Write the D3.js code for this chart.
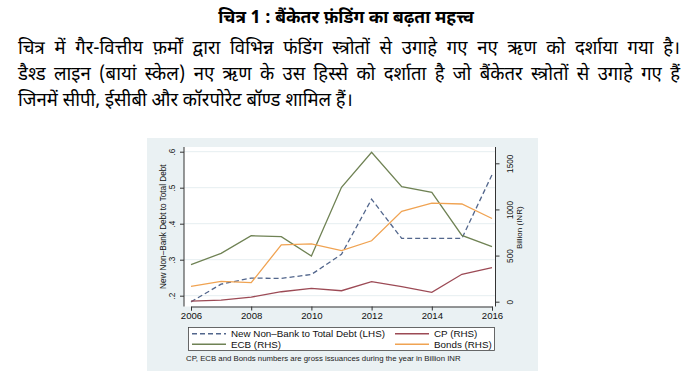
<!DOCTYPE html>
<html lang="hi">
<head>
  <meta charset="UTF-8">
  <title>चित्र 1</title>
  <script src="https://cdn.jsdelivr.net/npm/d3@7"></script>
  <style>
    body { margin: 0; background: #fff; }
    .dev { font-family: "Noto Sans Devanagari", "Lohit Devanagari", "FreeSans", "Noto Sans", sans-serif; }
    .chart { font-family: "Liberation Sans", Arial, sans-serif; }
  </style>
</head>
<body>
<div id="grafica"></div>

<script>
// datos
years = [2006, 2007, 2008, 2009, 2010, 2011, 2012, 2013, 2014, 2015, 2016]
nonBankShare = [0.183, 0.232, 0.249, 0.248, 0.259, 0.315, 0.468, 0.359, 0.359, 0.359, 0.536]
cp    = [6, 18, 50, 108, 145, 119, 217, 163, 102, 297, 369]
ecb   = [401, 524, 715, 705, 495, 1240, 1619, 1246, 1186, 718, 596]
bonds = [167, 221, 206, 616, 626, 553, 660, 980, 1068, 1059, 902]

xTicks = [2006, 2008, 2010, 2012, 2014, 2016]
leftTicks = [0.2, 0.3, 0.4, 0.5, 0.6]
rightTicks = [0, 500, 1000, 1500]

title = 'चित्र 1 : बैंकेतर फ़ंडिंग का बढ़ता महत्त्व'
paragraph = [
  'चित्र में गैर-वित्तीय फ़र्मों द्वारा विभिन्न फंडिंग स्त्रोतों से उगाहे गए नए ऋण को दर्शाया गया है।',
  'डैश्ड लाइन (बायां स्केल) नए ऋण के उस हिस्से को दर्शाता है जो बैंकेतर स्त्रोतों से उगाहे गए हैं',
  'जिनमें सीपी, ईसीबी और कॉरपोरेट बॉण्ड शामिल हैं।'
]
footnote = 'CP, ECB and Bonds numbers are gross issuances during the year in Billion INR'

series = [
  {name: 'New Non\u2013Bank to Total Debt (LHS)', values: nonBankShare, axis: 'left', color: '#52668c', dash: '5,3'},
  {name: 'CP (RHS)', values: cp, axis: 'right', color: '#9c4a55', dash: null},
  {name: 'ECB (RHS)', values: ecb, axis: 'right', color: '#6f8254', dash: null},
  {name: 'Bonds (RHS)', values: bonds, axis: 'right', color: '#f0a352', dash: null}
]

ancho_total = 693
alto_total = 386

svg = d3.select('#grafica')
  .append('svg')
  .attr('width', ancho_total)
  .attr('height', alto_total)

// texto de cabecera
svg.append('text')
  .attr('class', 'dev')
  .attr('x', 346)
  .attr('y', 23)
  .attr('text-anchor', 'middle')
  .attr('font-size', 17.5)
  .attr('font-weight', 'bold')
  .text(title)

// parrafo justificado con word-spacing
paragraph.forEach((line, i) => {
  t = svg.append('text')
    .attr('class', 'dev')
    .attr('x', 18)
    .attr('y', 54 + i * 26)
    .attr('font-size', 18.5)
    .text(line)
  if (i < 2) {
    w = t.node().getComputedTextLength()
    gaps = line.split(' ').length - 1
    t.attr('word-spacing', (662 - w) / gaps)
  }
})

// fondo del grafico (estilo Stata)
svg.append('rect')
  .attr('x', 147).attr('y', 138)
  .attr('width', 391).attr('height', 233)
  .attr('fill', '#eaf1f3')

margin = {left: 184, top: 147, right: 693 - 495.5, bottom: 386 - 306.5}
ancho = ancho_total - margin.left - margin.right
alto = alto_total - margin.top - margin.bottom

g = svg.append('g')
  .attr('class', 'chart')
  .attr('transform', 'translate(' + margin.left + ',' + margin.top + ')')

g.append('rect')
  .attr('width', ancho).attr('height', alto)
  .attr('fill', '#fff')

x = d3.scaleLinear().domain([2006, 2016]).range([7, 308])
yL = d3.scaleLinear().domain([0.2, 0.6]).range([148.7, 4.7])
yR = d3.scaleLinear().domain([0, 1500]).range([154.7, 16.3])

// rejilla
g.selectAll('.grid')
  .data(leftTicks)
  .enter()
  .append('line')
    .attr('x1', 0).attr('x2', ancho)
    .attr('y1', d => yL(d)).attr('y2', d => yL(d))
    .attr('stroke', '#e6eef0')
    .attr('stroke-width', 1)

// ejes
xAxis = g.append('g')
  .attr('transform', `translate(0, ${alto})`)
  .call(d3.axisBottom(x).tickValues(xTicks).tickFormat(d3.format('d')).tickSizeOuter(0).tickSize(4))
xAxis.selectAll('text').attr('font-size', 9.6).attr('y', 6).attr('fill', '#111')

lAxis = g.append('g')
  .call(d3.axisLeft(yL).tickValues(leftTicks).tickFormat(d => d3.format('.1f')(d).replace('0.', '.')).tickSizeOuter(0).tickSize(4))
lAxis.selectAll('text')
  .attr('font-size', 8.2).attr('fill', '#111')
  .attr('transform', 'rotate(-90)')
  .attr('x', 0).attr('y', -9).attr('dy', 0)
  .attr('text-anchor', 'middle')

rAxis = g.append('g')
  .attr('transform', `translate(${ancho}, 0)`)
  .call(d3.axisRight(yR).tickValues(rightTicks).tickFormat(d3.format('d')).tickSizeOuter(0).tickSize(4))
rAxis.selectAll('text')
  .attr('font-size', 8.2).attr('fill', '#111')
  .attr('transform', 'rotate(-90)')
  .attr('x', 0).attr('y', 17.5).attr('dy', 0)
  .attr('text-anchor', 'middle')

// el eje derecho baja hasta el eje x
rAxis.select('.domain').attr('d', `M0,0V${alto}`)
lAxis.select('.domain').attr('d', `M0,0V${alto}`)
g.selectAll('.domain').attr('stroke', '#333')
g.selectAll('.tick line').attr('stroke', '#333')

g.append('text')
  .attr('transform', `translate(-18, ${alto / 2}) rotate(-90)`)
  .attr('text-anchor', 'middle')
  .attr('font-size', 8.2)
  .attr('fill', '#111')
  .text('New Non\u2013Bank Debt to Total Debt')

g.append('text')
  .attr('transform', `translate(${ancho + 26.5}, ${alto / 2 + 1}) rotate(-90)`)
  .attr('text-anchor', 'middle')
  .attr('font-size', 8)
  .attr('fill', '#111')
  .text('Billion (INR)')

// lineas
series.forEach(s => {
  y = s.axis === 'left' ? yL : yR
  line = d3.line()
    .x((d, i) => x(years[i]))
    .y(d => y(d))
  g.append('path')
    .datum(s.values)
    .attr('d', line)
    .attr('fill', 'none')
    .attr('stroke', s.color)
    .attr('stroke-width', 1.3)
    .attr('stroke-dasharray', s.dash)
})

// leyenda
legend = svg.append('g').attr('class', 'chart')
legend.append('rect')
  .attr('x', 188.5).attr('y', 327.5)
  .attr('width', 306).attr('height', 23)
  .attr('fill', '#fff')
  .attr('stroke', '#444')
  .attr('stroke-width', 0.8)

legendPos = [[192, 333.8], [395, 333.8], [192, 344.2], [395, 344.2]]
series.forEach((s, i) => {
  p = legendPos[i]
  legend.append('line')
    .attr('x1', p[0]).attr('x2', p[0] + 34)
    .attr('y1', p[1]).attr('y2', p[1])
    .attr('stroke', s.color)
    .attr('stroke-width', 1.5)
    .attr('stroke-dasharray', s.dash)
  legend.append('text')
    .attr('x', p[0] + 39)
    .attr('y', p[1] + 3.4)
    .attr('font-size', 9.8)
    .attr('fill', '#111')
    .text(s.name)
})

svg.append('text')
  .attr('class', 'chart')
  .attr('x', 186)
  .attr('y', 361)
  .attr('font-size', 7.8)
  .attr('fill', '#222')
  .text(footnote)
</script>
</body>
</html>
